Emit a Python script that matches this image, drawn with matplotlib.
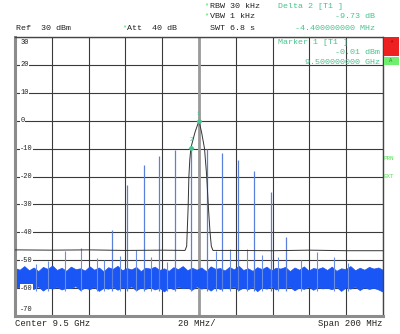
import matplotlib.pyplot as plt
import matplotlib.transforms as mtransforms
from matplotlib.patches import Rectangle
import numpy as np

# frequency offsets from 9.5 GHz centre, MHz
spur_freq = [-47.1, -39.0, -30.1, -21.6, -13.0, -4.4, 4.5, 12.7, 21.4, 29.9, 39.0, 47.1]
spur_level = [-39.0, -23.2, -16.0, -12.8, -10.6, -9.7, -10.0, -11.6, -14.2, -18.1, -25.7, -41.6]

small_freq = [-88.6, -81.8, -73.0, -64.4, -55.7, -51.5, -43.2, -34.4, -25.9, -17.4,
              9.1, 16.8, 25.9, 34.4, 43.1, 55.7, 64.3, 73.1, 81.0]
small_level = [-51.5, -50.3, -46.6, -45.6, -49.1, -49.8, -48.4, -46.3, -49.0, -50.5,
               -46.6, -46.0, -46.0, -48.0, -48.8, -50.0, -47.2, -48.7, -50.9]

# black trace (T1)
trace_freq = [-100, -80, -60, -40, -20, -7.6, -6.7, -5.9, -5.5, -5.0, -4.4, -2.2, 0.0,
              1.5, 3.0, 4.2, 5.1, 6.0, 6.7, 7.6, 20, 40, 60, 80, 100]
trace_level = [-46.3, -46.4, -46.3, -46.5, -46.4, -46.5, -45.0, -31.0, -20.0, -14.0, -9.7,
               -4.2, -0.01, -4.5, -10.0, -20.0, -31.0, -40.0, -45.0, -46.5, -46.5,
               -46.6, -46.4, -46.6, -46.6]

# noise band of blue trace (T2), upper / lower edges
noise_top = [-52.8, -53.4, -52.1, -53.6, -52.6, -53.9, -52.4, -53.1, -51.9, -53.5,
             -52.7, -53.8, -52.3, -53.2, -52.9, -53.7, -52.2, -53.4, -52.6, -54.0,
             -52.5, -53.1, -52.0, -53.6, -52.8, -53.3, -52.4, -53.9, -52.7, -53.0,
             -52.3, -53.5, -52.9, -53.8, -52.5, -53.2, -52.1, -53.6, -52.7, -53.4,
             -52.6, -53.9, -52.2, -53.1, -52.8, -53.7, -52.4, -53.3, -52.0, -53.5,
             -52.9, -53.8, -52.5, -53.2, -52.3, -53.6, -52.7, -53.0, -52.4, -53.9,
             -52.6, -53.4, -52.2, -53.7, -52.8, -53.1, -52.5, -53.5, -52.3, -53.8,
             -52.9, -53.2, -52.1, -53.6, -52.7, -53.4, -52.4, -53.0, -52.6, -53.5]
noise_bot = [-60.1, -59.5, -60.6, -59.8, -60.3, -59.4, -60.9, -59.7, -60.2, -59.6,
             -60.5, -59.9, -60.0, -59.3, -60.7, -59.8, -60.4, -59.6, -61.0, -59.9,
             -60.2, -59.5, -60.6, -59.7, -60.1, -59.4, -60.8, -59.8, -60.3, -59.6,
             -60.5, -59.9, -61.2, -59.7, -60.4, -59.5, -60.0, -59.8, -60.6, -59.4,
             -60.2, -59.7, -60.9, -59.6, -60.3, -59.9, -60.1, -59.5, -60.7, -59.8,
             -60.4, -59.6, -61.1, -59.7, -60.2, -59.4, -60.5, -59.9, -60.0, -59.6,
             -60.8, -59.8, -60.3, -59.5, -60.6, -59.7, -60.1, -59.9, -60.4, -59.6,
             -61.0, -59.8, -60.2, -59.5, -60.7, -59.7, -60.3, -59.9, -60.5, -61.3]

y_labels = ['30', '20', '10', '0', '-10', '-20', '-30', '-40', '-50', '-60', '-70']
y_values = [30, 20, 10, 0, -10, -20, -30, -40, -50, -60, -70]

W, H = 400, 334
green = '#45c48c'
mono = 'Liberation Mono'

fig = plt.figure(figsize=(4.0, 3.34), dpi=100)
fig.patch.set_facecolor('white')
ax = fig.add_axes([15 / W, 1 - 316 / H, 368 / W, 279 / H])
ax.set_xlim(-100, 100)
ax.set_ylim(-70, 30)
ax.set_xticks(np.arange(-100, 101, 20))
ax.set_yticks(np.arange(-70, 31, 10))
ax.tick_params(length=0, labelleft=False, labelbottom=False)
ax.grid(True, color='#3a3a3a', lw=0.8)
ax.set_axisbelow(True)
for s in ['top', 'right']:
    ax.spines[s].set_color('#444444')
    ax.spines[s].set_linewidth(1.0)
for s in ['left', 'bottom']:
    ax.spines[s].set_color('#8c8c8c')
    ax.spines[s].set_linewidth(2.2)
ax.axvline(0, color='#9a9a9a', lw=2.0, zorder=1)

# blue noise band
xn = np.linspace(-100, 100, len(noise_top))
ax.fill_between(xn, noise_bot, noise_top, color='#1a55f5', lw=0.5,
                edgecolor='#1a55f5', zorder=2)

# spurs
ax.vlines(spur_freq, -61, spur_level, color='#5a80dc', lw=0.9, zorder=3)
ax.vlines(small_freq, -61, small_level, color='#6a8ee2', lw=0.8, zorder=3)

# T1 trace
ax.plot(trace_freq, trace_level, color='#333333', lw=0.7, zorder=4)

# markers
ax.plot([0, -4.4], [-0.01, -9.74], marker='D', ms=2.2, color=green, ls='none', zorder=5)
ax.text(-0.6, 2.0, '1', color=green, fontsize=4, ha='center', family=mono, zorder=5)
ax.text(-4.4, -7.2, '2', color=green, fontsize=4, ha='center', family=mono, zorder=5)

# y labels inside plot
trans = mtransforms.blended_transform_factory(ax.transAxes, ax.transData)
for lab, v in zip(y_labels, y_values):
    yy = v
    if v == 30:
        yy = 28
    if v == -70:
        yy = -67.5
    ax.text(0.014, yy, lab, transform=trans, fontsize=5, family=mono,
            va='center', ha='left', color='#222222', zorder=6,
            bbox=dict(facecolor='white', edgecolor='none', pad=0.3))


def ftext(x, y, s, **kw):
    kw.setdefault('fontsize', 6)
    kw.setdefault('family', mono)
    kw.setdefault('va', 'center')
    kw.setdefault('color', '#222222')
    fig.text(x / W, 1 - y / H, s, **kw)


ftext(16, 29, 'Ref  30 dBm')
ftext(122, 28, '*', color='#33dd55', fontsize=5)
ftext(127, 29, 'Att  40 dB')
ftext(204, 6, '*', color='#33dd55', fontsize=5)
ftext(210, 7, 'RBW 30 kHz')
ftext(204, 16, '*', color='#33dd55', fontsize=5)
ftext(210, 17, 'VBW 1 kHz')
ftext(210, 29, 'SWT 6.8 s')
ftext(278, 7, 'Delta 2 [T1 ]', color=green)
ftext(375, 17, '-9.73 dB', color=green, ha='right')
ftext(375, 29, '-4.400000000 MHz', color=green, ha='right')
ftext(278, 43, 'Marker 1 [T1 ]', color=green)
ftext(380, 53, '-0.01 dBm', color=green, ha='right')
ftext(380, 62, '9.500000000 GHz', color=green, ha='right')
ftext(15, 323, 'Center 9.5 GHz', fontsize=6.4)
ftext(178, 323, '20 MHz/', fontsize=6.4)
ftext(383, 323, 'Span 200 MHz', ha='right', fontsize=6.4)
ftext(384, 158, 'PRN', color='#55dd55', fontsize=4.2)
ftext(384, 177, 'EXT', color='#55dd55', fontsize=4.2)

# status boxes at right
fig.patches.append(Rectangle((384 / W, 1 - 56 / H), 15 / W, 19 / H,
                             transform=fig.transFigure, facecolor='#ee2020', edgecolor='none'))
fig.patches.append(Rectangle((384 / W, 1 - 65 / H), 15 / W, 8 / H,
                             transform=fig.transFigure, facecolor='#6ef06e', edgecolor='none'))
ftext(391, 43, '*', color='#771111', fontsize=5, ha='center')
ftext(391, 61, 'A', color='#2a8a2a', fontsize=4, ha='center')

fig.savefig('out.png', dpi=100)
